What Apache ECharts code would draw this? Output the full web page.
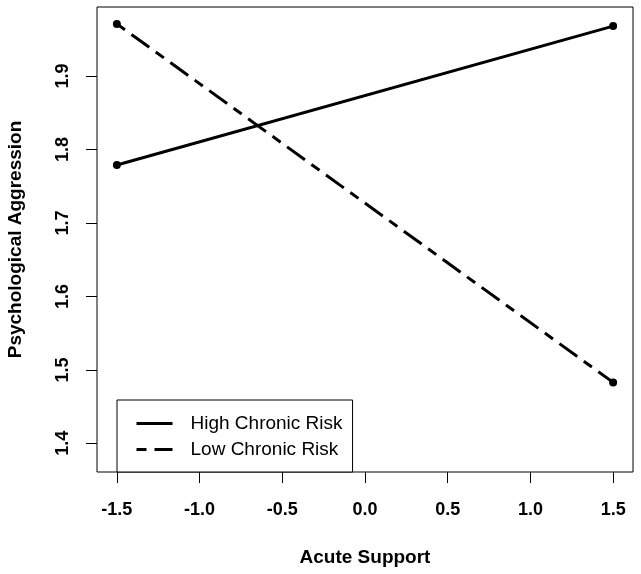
<!DOCTYPE html>
<html>
<head>
<meta charset="utf-8">
<script src="https://cdn.jsdelivr.net/npm/echarts@6/dist/echarts.min.js"></script>
<style>
html,body{margin:0;padding:0;background:#fff;}
#chart{width:641px;height:574px;}
</style>
</head>
<body>
<div id="chart"></div>
<script>
// Data
const acuteSupport = [-1.5, 1.5];
const highChronicRisk = [1.779, 1.968];
const lowChronicRisk = [1.971, 1.483];
const seriesNames = ['High Chronic Risk', 'Low Chronic Risk'];
const xTicks = [-1.5, -1.0, -0.5, 0.0, 0.5, 1.0, 1.5];
const yTicks = [1.4, 1.5, 1.6, 1.7, 1.8, 1.9];
const xTitle = 'Acute Support';
const yTitle = 'Psychological Aggression';

const FONT = '"Liberation Sans", Arial, sans-serif';
const chart = echarts.init(document.getElementById('chart'), null, {renderer: 'canvas'});

function pairs(xs, ys) { return xs.map((x, i) => [x, ys[i]]); }

const option = {
  animation: false,
  backgroundColor: '#ffffff',
  grid: {
    left: 97, top: 7, right: 8, bottom: 102,
    outerBoundsMode: 'none', containLabel: false,
    show: true, borderColor: '#000', borderWidth: 1, backgroundColor: 'transparent'
  },
  xAxis: {
    type: 'value', min: -1.62, max: 1.62,
    axisLine: {show: false, onZero: false},
    splitLine: {show: false},
    axisTick: {show: true, customValues: xTicks, length: 11, lineStyle: {color: '#000', width: 1}},
    axisLabel: {
      customValues: xTicks, margin: 29,
      formatter: v => v.toFixed(1),
      fontFamily: FONT, fontSize: 18, fontWeight: 'bold', color: '#000'
    },
    name: xTitle, nameLocation: 'middle', nameGap: 76,
    nameTextStyle: {fontFamily: FONT, fontSize: 19, fontWeight: 'bold', color: '#000'}
  },
  yAxis: {
    type: 'value', min: 1.361, max: 1.994,
    axisLine: {show: false, onZero: false},
    splitLine: {show: false},
    axisTick: {show: true, customValues: yTicks, length: 11, lineStyle: {color: '#000', width: 1}},
    axisLabel: {
      customValues: yTicks, margin: 25, rotate: 90,
      formatter: v => v.toFixed(1),
      fontFamily: FONT, fontSize: 18, fontWeight: 'bold', color: '#000'
    },
    name: yTitle, nameLocation: 'middle', nameGap: 72,
    nameTextStyle: {fontFamily: FONT, fontSize: 19, fontWeight: 'bold', color: '#000'}
  },
  legend: {
    orient: 'vertical',
    left: 117, top: 400,
    padding: [14, 10, 13, 18],
    itemWidth: 36, itemHeight: 14, itemGap: 7,
    borderColor: '#000', borderWidth: 1, backgroundColor: '#fff',
    itemStyle: {opacity: 0},
    lineStyle: {width: 3},
    textStyle: {fontFamily: FONT, fontSize: 19, color: '#000', padding: [0, 0, 0, 13]},
    data: seriesNames
  },
  series: [
    {
      name: seriesNames[0], type: 'line', data: pairs(acuteSupport, highChronicRisk),
      symbol: 'circle', symbolSize: 8,
      lineStyle: {color: '#000', width: 3, type: 'solid'},
      itemStyle: {color: '#000'}
    },
    {
      name: seriesNames[1], type: 'line', data: pairs(acuteSupport, lowChronicRisk),
      symbol: 'circle', symbolSize: 8,
      lineStyle: {color: '#000', width: 3, type: [22, 8, 10, 8], dashOffset: 30},
      itemStyle: {color: '#000'}
    }
  ]
};
chart.setOption(option);
</script>
</body>
</html>
